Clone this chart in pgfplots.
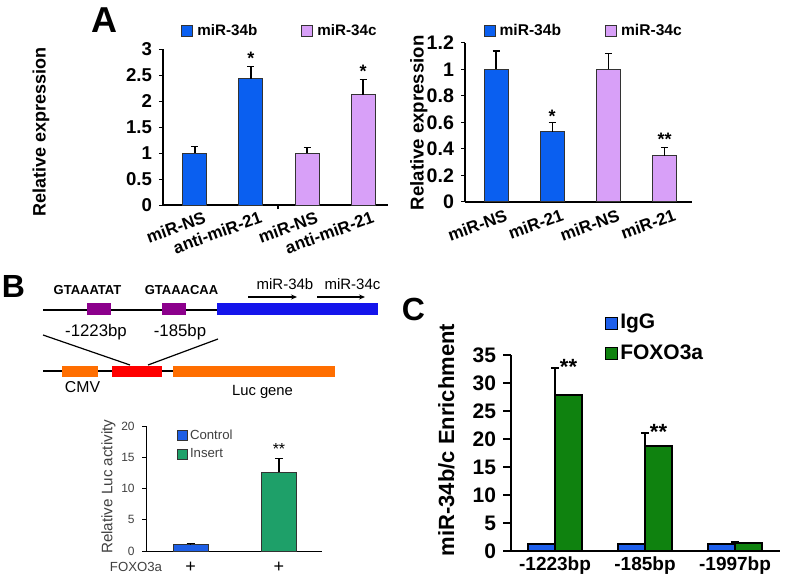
\documentclass[border=0pt]{standalone}
\usepackage{fontspec}
\setmainfont{Liberation Sans}
\usepackage{pgfplots}
\pgfplotsset{compat=1.18}
\usetikzlibrary{arrows.meta}
\definecolor{ablue}{RGB}{10,95,240}
\definecolor{apurple}{RGB}{216,160,248}
\definecolor{bblue}{RGB}{30,95,230}
\definecolor{bgreen}{RGB}{30,160,105}
\definecolor{cblue}{RGB}{30,95,235}
\definecolor{cgreen}{RGB}{15,130,15}
\definecolor{dpurple}{RGB}{140,0,140}
\definecolor{dblue}{RGB}{20,20,235}
\definecolor{dorange}{RGB}{255,110,0}
\definecolor{dred}{RGB}{255,0,0}
\pgfplotsset{
  sq legend/.style={legend image code/.code={\draw[##1,/tikz/.cd,line width=0.5pt] (0pt,-#1) rectangle (2*#1,#1);}},
  /pgf/number format/assume math mode=true,
}
\begin{document}
\begin{tikzpicture}[x=0.5pt,y=0.5pt]
\path[use as bounding box] (0,0) rectangle (786,579);

% ---------- Panel A left ----------
\node[font=\bfseries\fontsize{18}{18}\selectfont] at (104,559) {A};
\begin{axis}[
  at={(81.5pt,187pt)}, anchor=south west, scale only axis,
  width=112.5pt, height=78pt,
  xmin=-0.571, xmax=3.446, ymin=0, ymax=3,
  axis lines*=left, axis line style={line width=0.6pt,-},
  tick align=outside, major tick length=2pt, major tick style={black, line width=0.5pt},
  ytick={0,0.5,...,3},
  xtick={0,1,2,3}, xticklabels={miR-NS,anti-miR-21,miR-NS,anti-miR-21},
  x tick style={draw=none},
  extra x ticks={1.48}, extra x tick labels={},
  extra x tick style={x tick style={draw=black, line width=0.8pt}},
  xticklabel style={rotate=20, anchor=north east, font=\bfseries\fontsize{8.5}{9}\selectfont, inner sep=1pt, xshift=4.5pt, yshift=-1pt},
  yticklabel style={font=\bfseries\fontsize{9.3}{10}\selectfont},
  ylabel={Relative expression},
  ylabel style={at={(axis description cs:-0.542,0.47)}, anchor=center, font=\bfseries\fontsize{9}{10}\selectfont},
  error bars/y dir=plus, error bars/y explicit,
  error bars/error bar style={line width=0.6pt, black},
  error bars/error mark options={rotate=90, mark size=1.75pt, line width=0.6pt, black},
  legend columns=2,
  legend style={draw=none, fill=none, at={(0.08,1.115)}, anchor=west, font=\bfseries\fontsize{7.6}{8}\selectfont, /tikz/every even column/.append style={column sep=20pt}, inner sep=0pt},
  sq legend=2.75pt,
]
\addplot[ybar, bar width=12pt, bar shift=0pt, fill=ablue, draw=black!80, line width=0.5pt] coordinates {(0,1.0) +- (0,0.12) (1,2.43) +- (0,0.24)};
\addplot[ybar, bar width=12pt, bar shift=0pt, fill=apurple, draw=black!80, line width=0.5pt] coordinates {(2,1.0) +- (0,0.1) (3,2.12) +- (0,0.3)};
\legend{miR-34b, miR-34c}
\node[font=\bfseries\fontsize{9}{9}\selectfont, anchor=base, yshift=1pt] at (axis cs:1,2.67) {*};
\node[font=\bfseries\fontsize{9}{9}\selectfont, anchor=base, yshift=1pt] at (axis cs:3,2.42) {*};
\end{axis}

% ---------- Panel A right ----------
\begin{axis}[
  at={(232.5pt,188.5pt)}, anchor=south west, scale only axis,
  width=113.5pt, height=79.5pt,
  xmin=-0.552, xmax=3.488, ymin=0, ymax=1.2,
  axis lines*=left, axis line style={line width=0.6pt,-},
  tick align=outside, major tick length=2pt, major tick style={black, line width=0.5pt},
  ytick={0,0.2,...,1.2},
  yticklabels={0,0.2,0.4,0.6,0.8,1,1.2},
  xtick={0,1,2,3}, xticklabels={miR-NS,miR-21,miR-NS,miR-21},
  x tick style={draw=none},
  xticklabel style={rotate=20, anchor=north east, font=\bfseries\fontsize{8.5}{9}\selectfont, inner sep=1pt, xshift=4.5pt, yshift=-1.5pt},
  yticklabel style={font=\bfseries\fontsize{9.8}{10}\selectfont},
  ylabel={Relative expression},
  ylabel style={at={(axis description cs:-0.203,0.498)}, anchor=center, font=\bfseries\fontsize{9.3}{10}\selectfont},
  error bars/y dir=plus, error bars/y explicit,
  error bars/error bar style={line width=0.6pt, black},
  error bars/error mark options={rotate=90, mark size=1.75pt, line width=0.6pt, black},
  legend columns=2,
  legend style={draw=none, fill=none, at={(0.08,1.075)}, anchor=west, font=\bfseries\fontsize{7.8}{8}\selectfont, /tikz/every even column/.append style={column sep=20pt}, inner sep=0pt},
  sq legend=2.75pt,
]
\addplot[ybar, bar width=12pt, bar shift=0pt, fill=ablue, draw=black!80, line width=0.5pt] coordinates {(0,1.0) +- (0,0.14) (1,0.53) +- (0,0.07)};
\addplot[ybar, bar width=12pt, bar shift=0pt, fill=apurple, draw=black!80, line width=0.5pt] coordinates {(2,1.0) +- (0,0.12) (3,0.35) +- (0,0.06)};
\legend{miR-34b, miR-34c}
\node[font=\bfseries\fontsize{9}{9}\selectfont, anchor=base, yshift=0pt] at (axis cs:1,0.60) {*};
\node[font=\bfseries\fontsize{9}{9}\selectfont, anchor=base, yshift=1pt] at (axis cs:3,0.41) {**};
\end{axis}

% ---------- Panel B diagram ----------
\node[font=\bfseries\fontsize{16}{16}\selectfont] at (13.5,292.5) {B};
\draw[line width=0.7pt] (43,269) -- (217,269);
\fill[dpurple] (87,264) rectangle (111,276);
\fill[dpurple] (162,264) rectangle (186,276);
\fill[dblue] (217,264) rectangle (378,276);
\node[font=\bfseries\fontsize{6.5}{7}\selectfont] at (87.5,289) {GTAAATAT};
\node[font=\bfseries\fontsize{6.5}{7}\selectfont] at (181.5,289) {GTAAACAA};
\node[font=\fontsize{7.5}{8}\selectfont] at (285,295) {miR-34b};
\node[font=\fontsize{7.5}{8}\selectfont] at (352.5,295) {miR-34c};
\draw[-{Stealth[length=3pt,width=2.5pt]}, line width=0.6pt] (248,282) -- (297,282);
\draw[-{Stealth[length=3pt,width=2.5pt]}, line width=0.6pt] (317,282) -- (365,282);
\node[font=\fontsize{8.4}{9}\selectfont] at (96,247) {-1223bp};
\node[font=\fontsize{8.4}{9}\selectfont] at (180,247) {-185bp};
\draw[line width=0.6pt] (43,244) -- (130,214);
\draw[line width=0.6pt] (218,240) -- (148,214);
\draw[line width=0.7pt] (43,208) -- (333,208);
\fill[dorange] (62,202) rectangle (98,213);
\fill[dred] (112,202) rectangle (162,213);
\fill[dorange] (173,202) rectangle (335,213);
\node[font=\fontsize{7.9}{8}\selectfont] at (82.5,192) {CMV};
\node[font=\fontsize{7.4}{8}\selectfont] at (262.5,187) {Luc gene};

% ---------- Panel B bar chart ----------
\begin{axis}[
  at={(73pt,14pt)}, anchor=south west, scale only axis,
  width=88pt, height=62.5pt,
  xmin=-0.503, xmax=1.486, ymin=0, ymax=20,
  axis lines*=left, axis line style={line width=0.5pt,-},
  tick align=outside, major tick length=2pt, major tick style={black, line width=0.5pt},
  ytick={0,5,...,20},
  xtick={0,1}, xticklabels={+,+}, x tick style={draw=none},
  xticklabel style={font=\fontsize{9}{9}\selectfont},
  yticklabel style={font=\fontsize{6}{7}\selectfont, text=black!75, inner sep=3.5pt},
  ylabel={Relative Luc activity},
  ylabel style={at={(axis description cs:-0.213,0.514)}, anchor=center, font=\fontsize{7.6}{8}\selectfont, text=black!75},
  error bars/y dir=plus, error bars/y explicit,
  error bars/error bar style={line width=0.6pt, black},
  error bars/error mark options={rotate=90, mark size=2pt, line width=0.6pt, black},
  legend style={draw=none, fill=none, at={(0.174,0.99)}, anchor=north west, font=\fontsize{6.6}{7}\selectfont, inner sep=0pt, row sep=1pt, nodes={inner sep=1pt}, text=black!75},
  legend cell align=left,
  sq legend=2.5pt,
]
\addplot[ybar, bar width=17.5pt, bar shift=0pt, fill=bblue, draw=black!80, line width=0.5pt] coordinates {(0,1.05) +- (0,0.1)};
\addplot[ybar, bar width=17.5pt, bar shift=0pt, fill=bgreen, draw=black!80, line width=0.5pt] coordinates {(1,12.6) +- (0,2.2)};
\legend{Control, Insert}
\node[font=\fontsize{8}{8}\selectfont, anchor=base, yshift=2pt] at (axis cs:1,14.8) {**};
\end{axis}
\node[font=\fontsize{6.6}{7}\selectfont, text=black!75] at (136,12) {FOXO3a};

% ---------- Panel C ----------
\node[font=\bfseries\fontsize{16}{16}\selectfont] at (413.5,270) {C};
\begin{axis}[
  at={(255.5pt,14pt)}, anchor=south west, scale only axis,
  width=134.5pt, height=98pt,
  xmin=-0.489, xmax=2.5, ymin=0, ymax=35,
  axis lines*=left, axis line style={line width=1.1pt,-},
  tick align=outside, major tick length=4pt, major tick style={black, line width=1pt},
  ytick={0,5,...,35},
  xtick={0,1,2}, xticklabels={-1223bp,-185bp,-1997bp}, x tick style={draw=none},
  xticklabel style={font=\bfseries\fontsize{9.5}{10}\selectfont, yshift=4.5pt},
  yticklabel style={font=\bfseries\fontsize{10.5}{11}\selectfont},
  ylabel={miR-34b/c Enrichment},
  ylabel style={at={(axis description cs:-0.24,0.566)}, anchor=center, font=\bfseries\fontsize{11}{12}\selectfont},
  error bars/y dir=plus, error bars/y explicit,
  error bars/error bar style={line width=1pt, black},
  error bars/error mark options={rotate=90, mark size=2pt, line width=1pt, black},
  legend style={draw=none, fill=none, at={(0.349,1.22)}, anchor=north west, font=\bfseries\fontsize{10.5}{11}\selectfont, inner sep=0pt, row sep=4.5pt, nodes={inner sep=1pt}},
  legend cell align=left,
  sq legend=3pt,
]
\addplot[ybar, bar width=13.5pt, bar shift=-6.75pt, fill=cblue, draw=black, line width=1pt] coordinates {(0,1.2) +- (0,0.1) (1,1.2) +- (0,0.1) (2,1.2) +- (0,0.1)};
\addplot[ybar, bar width=13.5pt, bar shift=6.75pt, fill=cgreen, draw=black, line width=1pt] coordinates {(0,27.8) +- (0,4.8) (1,18.7) +- (0,2.3) (2,1.5) +- (0,0.1)};
\legend{IgG, FOXO3a}
\node[font=\bfseries\fontsize{11}{11}\selectfont, anchor=base, yshift=-3pt, xshift=6.75pt] at (axis cs:0,32.6) {**};
\node[font=\bfseries\fontsize{11}{11}\selectfont, anchor=base, yshift=-3pt, xshift=6.75pt] at (axis cs:1,21.0) {**};
\end{axis}
\end{tikzpicture}
\end{document}
